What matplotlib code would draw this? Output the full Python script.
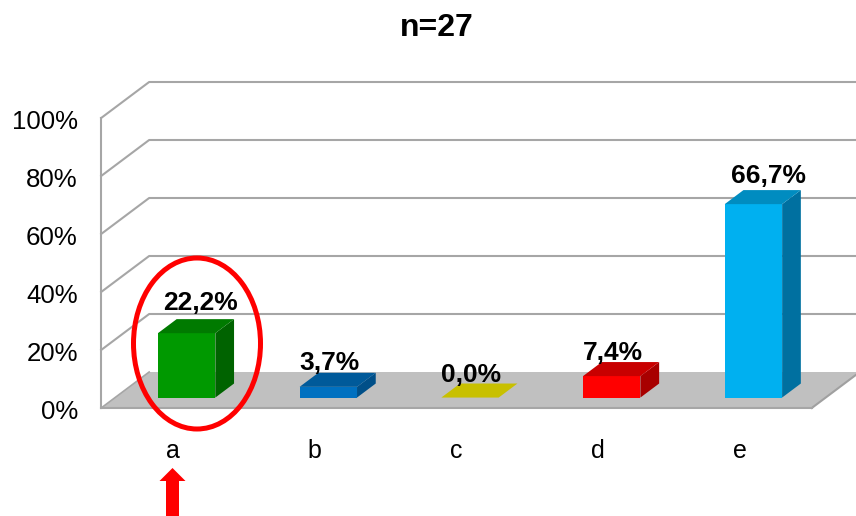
import matplotlib
matplotlib.use("Agg")
import matplotlib.pyplot as plt
from matplotlib.patches import Ellipse, Polygon

plt.rcParams["font.family"] = ["Liberation Sans", "DejaVu Sans"]

# -------------------
# Data
# -------------------

categories = ["a", "b", "c", "d", "e"]
values = [22.2, 3.7, 0.0, 7.4, 66.7]
value_labels = ["22,2%", "3,7%", "0,0%", "7,4%", "66,7%"]
ticks = [0, 20, 40, 60, 80, 100]
tick_labels = ["0%", "20%", "40%", "60%", "80%", "100%"]

# front, top, side
bar_colors = [
    ("#009900", "#007A00", "#006300"),
    ("#0070C0", "#005A9A", "#004F88"),
    ("#CCC400", "#C8C000", "#A8A200"),
    ("#FF0000", "#C80000", "#A80000"),
    ("#00B0F0", "#008CC0", "#0070A0"),
]

# label nudges from the middle of the bar top (category units, percent units)
label_dx = [0.003, -0.085, -0.085, -0.085, 0.014]
label_dy = [2.5, 0.5, -0.2, 0.2, 1.9]

# -------------------
# Fake 3D projection
# -------------------

depth_x = 48 / 141.7
depth_y = 36 / 2.9
bar_width = 0.405
bar_near = 0.29
bar_far = 0.68


def proj(x, v, d):
    return (x + d * depth_x, v + d * depth_y)


fig = plt.figure(figsize=(8.56, 5.16), dpi=100)
ax = fig.add_axes([0, 0, 1, 1])
ax.set_xlim(-172 / 141.7, (856 - 172) / 141.7)
ax.set_ylim((408 - 516) / 2.9, 408 / 2.9)
ax.axis("off")

x0 = -0.5
x1 = 4.515
grid_color = "#A6A6A6"

# floor
ax.add_patch(Polygon(
    [proj(x0, 0, 0), proj(x1, 0, 0), proj(x1, 0, 1), proj(x1 + 1, 0, 1), proj(x0, 0, 1)],
    closed=True, facecolor="#C0C0C0", edgecolor="none", zorder=1
))
ax.plot(*zip(proj(x1, 0, 0), proj(x1, 0, 1)), color="#A0A0A0", lw=1.5, zorder=1.5)

# walls and grid
for t in ticks:
    pts = [proj(x0, t, 0), proj(x0, t, 1), proj(x1 + 1, t, 1)]
    if t == 0:
        pts = [proj(x0, t, 0), proj(x1, t, 0)]
    ax.plot(*zip(*pts), color=grid_color, lw=1.5, zorder=1.5)
ax.plot([x0, x0], [0, 100], color=grid_color, lw=1.5, zorder=1.5)
ax.plot(*zip(proj(x0, 0, 0), proj(x0, 0, 1)), color=grid_color, lw=1.2, zorder=1.5)

# bars
for i, v in enumerate(values):
    left = i - bar_width / 2 + 0.005
    right = i + bar_width / 2 + 0.005
    front, top, side = bar_colors[i]
    if v > 0:
        ax.add_patch(Polygon(
            [proj(left, 0, bar_near), proj(right, 0, bar_near),
             proj(right, v, bar_near), proj(left, v, bar_near)],
            facecolor=front, edgecolor="none", zorder=3
        ))
        ax.add_patch(Polygon(
            [proj(right, 0, bar_near), proj(right, 0, bar_far),
             proj(right, v, bar_far), proj(right, v, bar_near)],
            facecolor=side, edgecolor="none", zorder=3
        ))
    ax.add_patch(Polygon(
        [proj(left, v, bar_near), proj(right, v, bar_near),
         proj(right, v, bar_far), proj(left, v, bar_far)],
        facecolor=top, edgecolor="none", zorder=3
    ))
    lx, ly = proj(i, v, bar_far)
    ax.text(lx - 0.035 + label_dx[i], ly + 3.0 + label_dy[i], value_labels[i],
            ha="center", va="center", fontsize=19, fontweight="bold",
            color="black", zorder=5)
    ax.text(i + 0.005, -14.9, categories[i], ha="center", va="center", fontsize=18, color="black")

# axis labels
for t, lab in zip(ticks, tick_labels):
    ax.text(-0.665, t - 1.3, lab, ha="right", va="center", fontsize=18.6, color="black")

# -------------------
# Overlay in picture pixels: title, ellipse, arrow
# -------------------

over = fig.add_axes([0, 0, 1, 1])
over.set_xlim(0, 856)
over.set_ylim(516, 0)
over.axis("off")
over.patch.set_alpha(0)

over.text(437, 27.5, "n=27", ha="center", va="center", fontsize=23, fontweight="bold")

over.add_patch(Ellipse((197, 343.5), 127, 171, facecolor="none", edgecolor="#FF0000", lw=3.6, zorder=6))

over.add_patch(Polygon(
    [(172.5, 468), (185.5, 481), (179, 481), (179, 516), (166, 516), (166, 481), (159.5, 481)],
    closed=True, facecolor="#FF0000", edgecolor="none", zorder=6
))

fig.savefig("out.png", dpi=100)
